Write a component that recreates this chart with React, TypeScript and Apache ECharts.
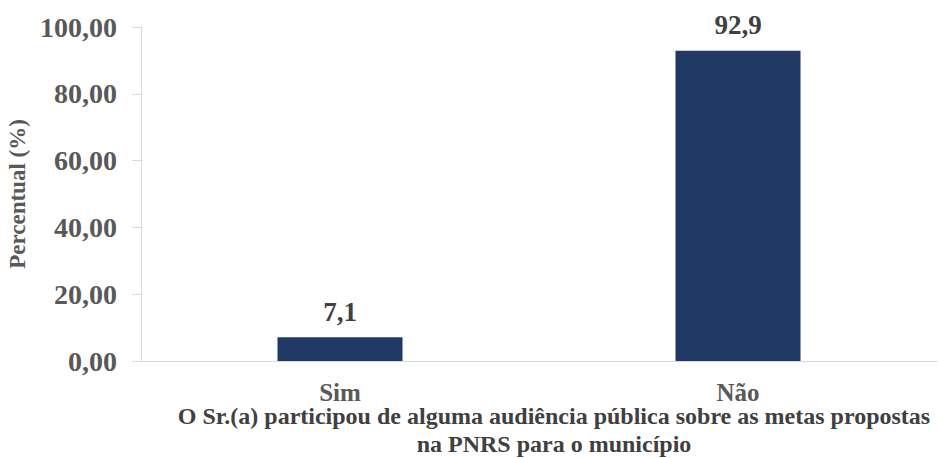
import React, { useEffect, useRef } from "react";
import * as echarts from "echarts";

const categories = ["Sim", "Não"];
const values = [7.1, 92.9];
const valueLabels = ["7,1", "92,9"];
const yAxisTitle = "Percentual (%)";
const xAxisTitleLines = [
  "O Sr.(a) participou de alguma audiência pública sobre as metas propostas",
  "na PNRS para o município",
];

const FONT = "Liberation Serif, Times New Roman, serif";

export default function App() {
  const ref = useRef<HTMLDivElement>(null);
  useEffect(() => {
    document.body.style.margin = "0";
    const chart = echarts.init(ref.current!, null, { renderer: "svg" });
    chart.setOption({
      animation: false,
      backgroundColor: "#ffffff",
      grid: {
        left: 141,
        top: 27,
        right: 1,
        bottom: 97,
        containLabel: false,
        outerBoundsMode: "none",
      },
      xAxis: {
        type: "category",
        data: categories,
        axisLine: { show: true, lineStyle: { color: "#d9d9d9", width: 1 } },
        axisTick: { show: false },
        axisLabel: {
          color: "#595959",
          fontFamily: FONT,
          fontWeight: "bold",
          fontSize: 25,
          lineHeight: 22,
          margin: 20,
        },
      },
      yAxis: {
        type: "value",
        min: 0,
        max: 100,
        interval: 20,
        name: yAxisTitle,
        nameLocation: "middle",
        nameRotate: 90,
        nameGap: 110,
        nameTextStyle: {
          color: "#595959",
          fontFamily: FONT,
          fontWeight: "bold",
          fontSize: 23,
        },
        axisLine: { show: true, lineStyle: { color: "#d9d9d9", width: 1 } },
        axisTick: { show: true, length: 9, lineStyle: { color: "#d9d9d9" } },
        splitLine: { show: false },
        axisLabel: {
          color: "#595959",
          fontFamily: FONT,
          fontWeight: "bold",
          fontSize: 28,
          margin: 24,
          formatter: (v: number) => v.toFixed(2).replace(".", ","),
        },
      },
      series: [
        {
          type: "bar",
          data: values,
          barWidth: 125,
          itemStyle: { color: "#203864" },
          label: {
            show: true,
            position: "top",
            distance: 12,
            color: "#404040",
            fontFamily: FONT,
            fontWeight: "bold",
            fontSize: 27,
            formatter: (p: any) => valueLabels[p.dataIndex],
          },
        },
      ],
      graphic: xAxisTitleLines.map((t, i) => ({
        type: "text",
        x: 554,
        y: 416 + i * 28,
        style: {
          text: t,
          fill: "#404040",
          fontFamily: FONT,
          fontWeight: "bold",
          fontSize: 24,
          lineHeight: 22,
          textAlign: "center",
          textVerticalAlign: "middle",
        },
      })),
    });
    return () => chart.dispose();
  }, []);
  return <div ref={ref} style={{ width: 938, height: 458 }} />;
}
